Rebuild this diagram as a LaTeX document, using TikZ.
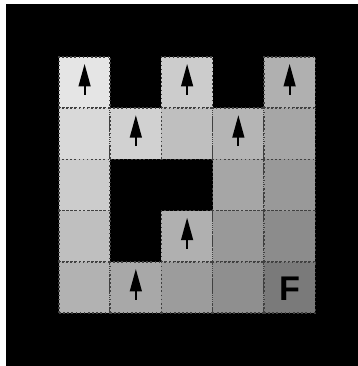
\documentclass[tikz,border=0pt]{standalone}
\usepackage{fontspec}
\setsansfont{Liberation Sans}
\usepackage{tikz}
\usetikzlibrary{
    arrows.meta,
    positioning
}
\tikzset{
  cell/.style  = {draw=black!75, dash pattern=on 0.9pt off 1.4pt, line width=0.8pt,
                  minimum size=1cm, inner sep=0pt, outer sep=0pt},
  uparr/.style = {-{Triangle[length=0.44cm, width=0.23cm]}, line width=1.1pt, black},
  goal/.style  = {font=\sffamily\bfseries\fontsize{19}{19}\selectfont, inner sep=0pt}
}

\begin{document}
\begin{tikzpicture}

\useasboundingbox (-1.15,-1.03) rectangle (5.83,6.11);

%% --- background ---
\fill[white] (-1.15,-1.03) rectangle (5.83,6.11);
\fill[black] (-1.033,-1.03) rectangle (5.83,6.03);

%% --- free cells: row / column / grey level ---
\foreach \r/\c/\v in {0/0/90, 0/2/80, 0/4/69,
                      1/0/85, 1/1/82, 1/2/75, 1/3/71, 1/4/65,
                      2/0/80, 2/3/65, 2/4/60,
                      3/0/75, 3/2/69, 3/3/60, 3/4/55,
                      4/0/70, 4/1/66, 4/2/61, 4/3/56, 4/4/48}
  \node[cell, fill=white!\v!black] (c\r\c) at (\c+0.5, 4.5-\r) {};

%% --- policy arrows ---
\foreach \n in {c00, c02, c04, c11, c13, c32, c41}
  \draw[uparr] ([yshift=-0.24cm]\n.center) -- ([yshift=0.364cm]\n.center);

%% --- goal ---
\node[goal, yshift=-0.03cm] (fin) at (c44.center) {F};

\end{tikzpicture}
\end{document}
